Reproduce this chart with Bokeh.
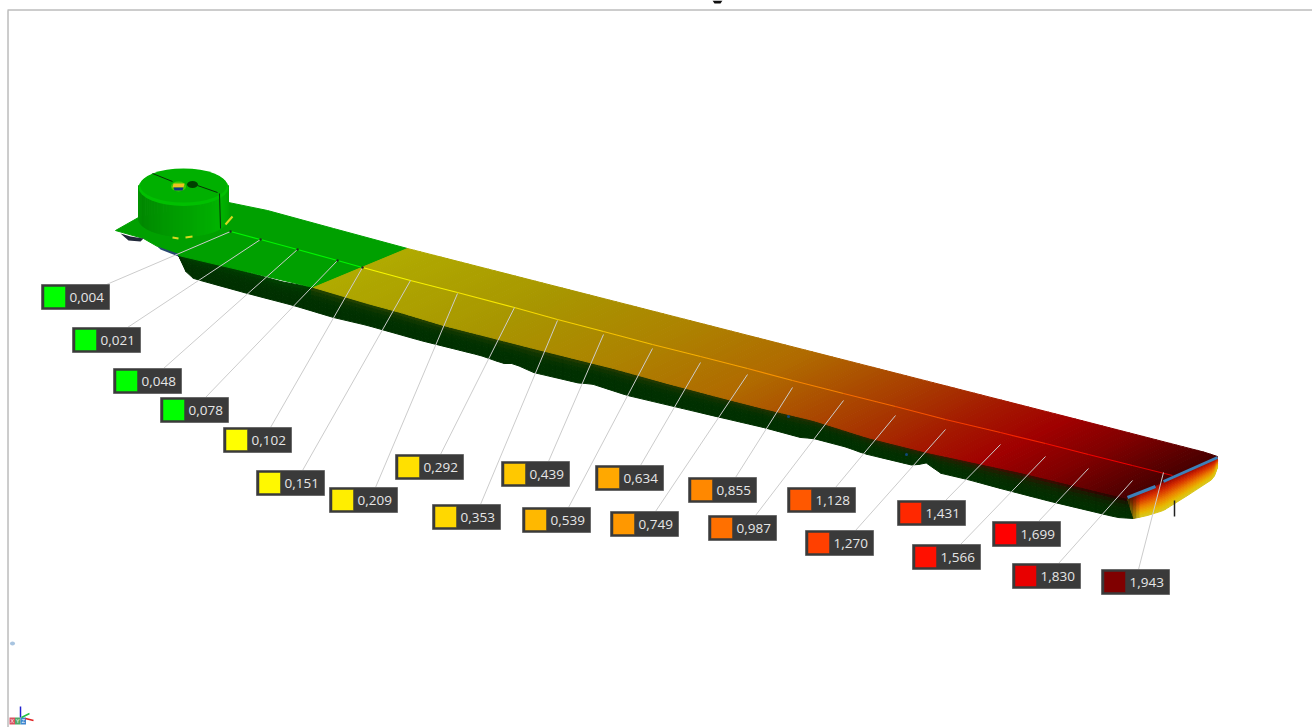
import numpy as np
from bokeh.plotting import figure
from bokeh.models import Range1d
from bokeh.core.properties import value
from bokeh.embed import file_html
from bokeh.resources import INLINE

# ---- callout data
label_values = ["0,004","0,021","0,048","0,078","0,102","0,151","0,209","0,292","0,353","0,439",
                "0,539","0,634","0,749","0,855","0,987","1,128","1,270","1,431","1,566","1,699","1,830","1,943"]
label_colors = ["#00ff00","#00ff00","#00ff00","#00ff00","#ffff00","#fff800","#ffee00","#ffe000","#ffd800","#ffc800",
                "#ffb800","#ffa800","#ff9800","#ff8800","#ff7000","#ff5800","#ff4000","#ff2800","#ff1000","#ff0000","#e80000","#800000"]
box_left = [41,72,113,160,223,256,329,395,432,501,522,595,610,688,708,787,805,897,912,992,1012,1101]
box_top  = [284,327,368,397,427,470,487,454,504,461,507,465,511,477,515,487,530,500,544,521,563,569]
lead_from_x = [106,127,163,205,270,302,375,440,480,548,568,640,655,735,755,835,855,945,960,1038,1058,1138]
lead_to_x = [230,260,297,337,362,410,457,514,557,603,652,700,747,792,843,895,945,1000,1045,1088,1132,1163]
lead_to_y = [231,239,249,260,267,280,293,307,320,334,348,362,374,387,400,415,429,444,456,468,480,472]
centre_line_x = [230,260,297,337,362,410,457,514,557,603,652,700,747,792,843,895,945,1000,1045,1088,1132,1172]
centre_line_y = [231,239,249,260,267,280,292,307,319,331,344,356,368,380,393,406,419,432,443,454,465,475]

# ---- outline of the part
front_x = [178,217,280,313,367,400,443,490,533,613,667,720,763,813,867,927,1020,1127]
front_y = [255,263,281,287,303,312,325,337,348,368,383,397,408,420,437,452,472,498]
back_x = [228,267,333,407,1077,1205,1217]
back_y = [202,210,228,248,419,452,456]
under_x = [178,183,190,200,247,293,333,367,420,480,503,513,533,580,590,627,720,763,800,813,847,863,913,928,937,967,1000,1050,1117,1133]
under_y = [255,268,277,280,293,305,317,325,340,355,363,363,372,383,383,395,417,427,437,438,447,453,465,462,472,479,488,501,517,518]
cap_x = [1127,1133,1147,1163,1187,1213,1217]
cap_y = [498,518,515,510,495,478,467]
flange_x = [115,138,228,267,333,407,313,178,157,143]
flange_y = [230,217,202,210,228,248,287,255,246,238]

# ---- surface colour stops (fraction along the strip)
surface_pos = [0.0,0.2,0.36,0.5,0.65,0.74,0.82,0.9,1.0]
surface_col = ["#b0aa00","#a89600","#ad8200","#b06a00","#a83a00","#a41800","#a00000","#800000","#480000"]

W, H = 1312, 727
p = figure(width=W, height=H, x_range=Range1d(0, W), y_range=Range1d(H, 0),
           output_backend="svg", toolbar_location=None, min_border=0)
p.axis.visible = False
p.grid.visible = False
p.outline_line_color = None
p.background_fill_color = "white"
p.border_fill_color = "white"

def rgb(h):
    return np.array([int(h[i:i+2],16) for i in (1,3,5)], float)
def tohex(c):
    return "#%02x%02x%02x" % tuple(int(round(max(0,min(255,v)))) for v in c)
def mix(a,b,w):
    return a+(b-a)*w
def ramp(pos, cols, t):
    arr = np.array([rgb(c) for c in cols])
    return np.array([np.interp(t,pos,arr[:,k]) for k in range(3)])

# frame lines
p.line([7,1312],[9.5,9.5],line_color="#9a9a9a",line_width=1)
p.line([7.5,7.5],[10,727],line_color="#9a9a9a",line_width=1)
p.patch([712,722,720,714],[0,0,3,3],fill_color="#101010",line_color=None)

# ---- side wall
xs,ys,cs = [],[],[]
gx = np.linspace(178,1133,130)
for i in range(len(gx)-1):
    x0,x1 = gx[i],gx[i+1]
    t0,t1 = np.interp(x0,front_x,front_y),np.interp(x1,front_x,front_y)
    b0,b1 = np.interp(x0,under_x,under_y),np.interp(x1,under_x,under_y)
    if x1>1127: t1=498
    f=(x0+x1)/2
    for j in range(6):
        v0,v1=j/6,(j+1)/6
        base=rgb("#003000")
        warm=ramp(surface_pos,surface_col,np.clip((f-313)/814,0,1))*0.6 if f>313 else rgb("#006000")
        wx=np.clip((f-850)/270,0,1)
        w=(1-(v0+v1)/2)**4*(0.45+0.55*wx)+wx*0.2*(1-(v0+v1)/2)
        c=mix(base,warm,min(w,0.95))
        xs.append([x0,x1,x1,x0]); ys.append([t0+(b0-t0)*v0,t1+(b1-t1)*v0,t1+(b1-t1)*v1,t0+(b0-t0)*v1]); cs.append(tohex(c))
p.patches(xs,ys,fill_color=cs,line_color=cs,line_width=1)

# ---- end cap
xs,ys,cs=[],[],[]
cap_stops=[0,.3,.6,.85,1]
cap_cols=["#980000","#d83000","#ec8000","#e8b800","#d8c820"]
gx=np.linspace(1127,1217,30)
top=lambda x: 498+(x-1127)*(457-498)/90
for i in range(len(gx)-1):
    x0,x1=gx[i],gx[i+1]
    t0,t1=top(x0),top(x1)
    b0,b1=np.interp(x0,cap_x,cap_y),np.interp(x1,cap_x,cap_y)
    fx=(x0+x1)/2
    for j in range(16):
        v0,v1=j/16,(j+1)/16
        c=ramp(cap_stops,cap_cols,(v0+v1)/2)
        if fx<1140:
            c=mix(rgb("#302000"),c,(fx-1127)/13)
        xs.append([x0,x1,x1,x0]); ys.append([t0+(b0-t0)*v0,t1+(b1-t1)*v0,t1+(b1-t1)*v1,t0+(b0-t0)*v1]); cs.append(tohex(c))
p.patches(xs,ys,fill_color=cs,line_color=cs,line_width=1)
p.line([1174,1174],[500,516],line_color="#202020",line_width=1.5)
p.scatter([788,906],[416,454],size=3,fill_color="#104878",line_color=None)

# ---- flange and green start of the top face
p.patch(flange_x,flange_y,fill_color="#00a000",line_color="#00a000")
p.patches([[120,130,143,140,128],[157,177,178,160]],[[233,236,238,241,240],[246,253,256,249]],
          fill_color=["#202838","#284870"],line_color=None)

# ---- coloured part of the top face
xs,ys,cs=[],[],[]
N=120
def cross(t):
    fxv=313+(1127-313)*t
    bxv=407+(1217-407)*t
    return fxv,np.interp(fxv,front_x,front_y),bxv,np.interp(bxv,back_x,back_y)
for i in range(N):
    t0,t1=i/N,(i+1)/N
    a=cross(t0); b=cross(t1)
    c=ramp(surface_pos,surface_col,(t0+t1)/2)
    xs.append([a[0],b[0],b[2],a[2]]); ys.append([a[1],b[1],b[3],a[3]]); cs.append(tohex(c))
p.patches(xs,ys,fill_color=cs,line_color=cs,line_width=1)

# centre line in the scale's colours
for i in range(len(centre_line_x)-1):
    p.line(centre_line_x[i:i+2],centre_line_y[i:i+2],line_color=label_colors[i],line_width=1.2,line_alpha=0.9)

# blue rim
p.line([1127,1155],[497,486],line_color="#3c80b8",line_width=3)
p.line([1163,1217],[481,457],line_color="#3c80b8",line_width=3)

# ---- cylinder
cx,cy,rx,ry=183,185,45,18
body_pos=[0,.15,.5,.8,1]
body_col=["#009800","#008800","#00a000","#00b400","#00a400"]
xs,ys,cs=[],[],[]
n=40
for i in range(n):
    a0=np.pi*(1-i/n); a1=np.pi*(1-(i+1)/n)
    x0,x1=cx+rx*np.cos(a0),cx+rx*np.cos(a1)
    e0,e1=ry*np.sin(a0),ry*np.sin(a1)
    c=ramp(body_pos,body_col,(i+.5)/n)
    xs.append([x0,x1,x1,x0]); ys.append([cy+e0,cy+e1,cy+33+e1,cy+33+e0]); cs.append(tohex(c))
p.patches(xs,ys,fill_color=cs,line_color=cs,line_width=1)
p.ellipse([cx],[cy+2],width=[2*rx],height=[2*ry+1],fill_color="#00c000",line_color=None)
p.ellipse([cx],[cy],width=[2*rx-3],height=[2*ry-2],fill_color="#00b000",line_color=None)
p.ellipse([192],[184],width=[11],height=[7],fill_color="#004000",line_color=None)
p.ellipse([178],[186],width=[15],height=[10],fill_color="#40c800",line_color=None)
p.patches([[173,184,183,172],[173,183,182,174]],[[183,183,187,187],[187,187,190,190]],
          fill_color=["#f0c020","#103880"],line_color=None)
p.multi_line([[152,172],[197,217],[219,220]],[[173,181],[185,192],[193,228]],line_color="#083008",line_width=1)
p.multi_line([[172,178],[185,192],[225,232]],[[237,238],[237,236],[224,216]],line_color="#d8d820",line_width=2)

# ---- leader lines and labels
p.segment(lead_from_x,box_top,lead_to_x,lead_to_y,line_color="#cccccc",line_width=1)
p.scatter(lead_to_x[:5],lead_to_y[:5],size=2.5,fill_color="#203020",line_color=None)
bl=np.array(box_left); bt=np.array(box_top)
p.quad(left=bl,right=bl+68,top=bt,bottom=bt+25,fill_color="#3a3a3a",line_color="#6a6a6a",line_width=1)
p.quad(left=bl+2.5,right=bl+24,top=bt+2,bottom=bt+23,fill_color=label_colors,line_color="#3a3a3a",line_width=0.5)
p.text(bl+28,bt+13,text=label_values,text_color="#e6e6e6",text_font=value("Open Sans"),
       text_font_size="13.5px",text_baseline="middle",text_align="left")

# ---- small marks bottom left
p.quad(left=[9,14.5,20],right=[14.5,20,25.5],top=[717,717,717],bottom=[724,724,724],
       fill_color=["#d85060","#50a868","#4088d0"],line_color=None)
p.text([11.7,17.2,22.7],[720.5,720.5,720.5],text=["X","Y","Z"],text_color="white",text_font=value("Open Sans"),
       text_font_size="6px",text_baseline="middle",text_align="center")
p.segment([20,21,25],[717,717,718],[20,29,33],[706,713,720],line_color=["#2020d0","#20c040","#e02020"],line_width=1.5)
p.ellipse([12],[643],width=[5],height=[4],fill_color="#a8c4e0",line_color=None)

open("out.html","w").write(file_html(p,INLINE))
